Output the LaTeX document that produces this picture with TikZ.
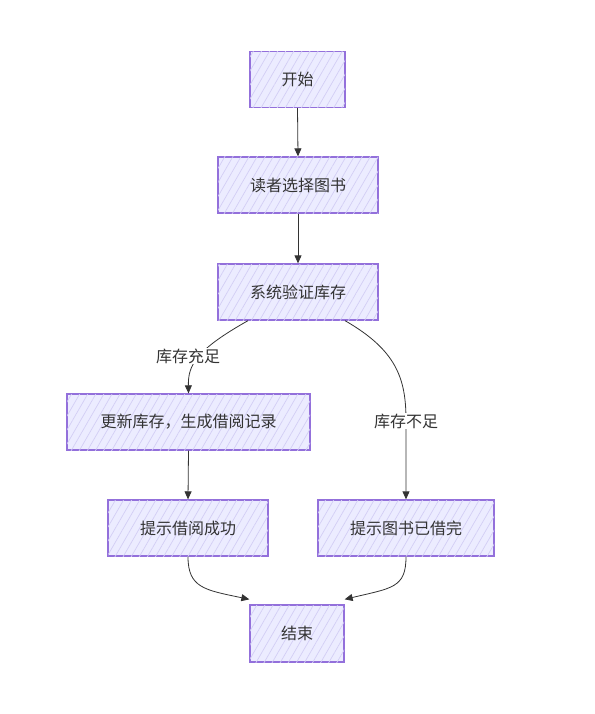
\documentclass[tikz,border=0pt]{standalone}
\usepackage{fontspec}
\setmainfont{Noto Sans CJK SC}
\usetikzlibrary{arrows.meta,patterns.meta}
\definecolor{nodefill}{HTML}{ECECFF}
\definecolor{nodeline}{HTML}{9370DB}
\definecolor{hatch}{HTML}{D3CEF5}
\definecolor{ink}{HTML}{333333}
\tikzset{
  flowbox/.style={draw=nodeline, line width=1.3pt, fill=nodefill,
    postaction={pattern={Lines[angle=60,distance=7pt,line width=0.7pt]}, pattern color=hatch},
    text=ink, font=\fontsize{16}{18}\selectfont, minimum height=56pt, inner sep=0pt},
  conn/.style={draw=ink, line width=0.8pt, -{Triangle[length=8pt,width=7pt]}},
  edgelabel/.style={fill=white, text=ink, font=\fontsize{16}{18}\selectfont, inner sep=1pt}
}
\begin{document}
\begin{tikzpicture}[x=1pt,y=-1pt]
\useasboundingbox (0,0) rectangle (594,714);
\node[flowbox, minimum width=95pt] (start) at (297.5,79.5) {开始};
\node[flowbox, minimum width=160pt] (choose) at (298,185) {读者选择图书};
\node[flowbox, minimum width=160pt] (verify) at (298,292) {系统验证库存};
\node[flowbox, minimum width=243pt] (update) at (188.5,422) {更新库存，生成借阅记录};
\node[flowbox, minimum width=160pt] (ok) at (188,528) {提示借阅成功};
\node[flowbox, minimum width=176pt] (fail) at (406,528) {提示图书已借完};
\node[flowbox, minimum width=94pt, minimum height=57pt] (end) at (297,633.5) {结束};

\draw[conn] (start.south) -- (choose.north);
\draw[conn] (choose.south) -- (verify.north);
\draw[conn] ([xshift=-50pt]verify.south) .. controls (196,350) and (188,365) .. (update.north);
\draw[conn] ([xshift=47pt]verify.south) .. controls (396,350) and (406,378) .. (406,420) -- (fail.north);
\draw[conn] (update.south) -- (ok.north);
\draw[conn] (ok.south) .. controls (188,588) and (205,590) .. ([yshift=5pt]end.north west);
\draw[conn] (fail.south) .. controls (406,588) and (392,588) .. ([yshift=5pt]end.north east);

\node[edgelabel] (lbl1) at (188,356) {库存充足};
\node[edgelabel] (lbl2) at (406,421) {库存不足};
\end{tikzpicture}
\end{document}
